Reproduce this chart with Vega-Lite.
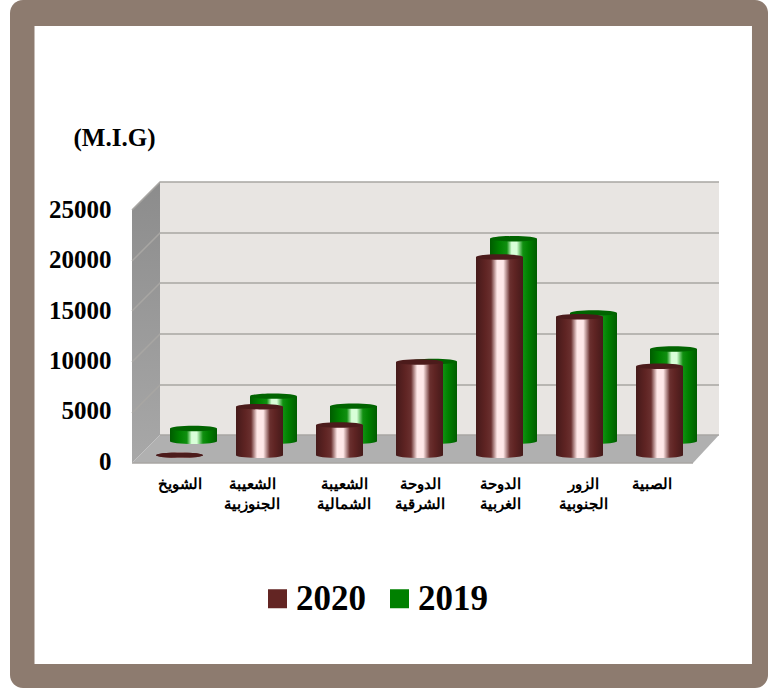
{"$schema":"https://vega.github.io/schema/vega-lite/v6.json","width":758,"height":688,"padding":{"left":10,"top":0,"right":0,"bottom":0},"autosize":"none","background":"white","config":{"view":{"fill":"#8d7b6f","stroke":null,"cornerRadius":13}},"datasets":{"main":[{"idx":0,"name":"الشويخ","year":"2020","value":20},{"idx":1,"name":"الشعيبة الجنوزبية","year":"2020","value":4820},{"idx":2,"name":"الشعيبة الشمالية","year":"2020","value":3000},{"idx":3,"name":"الدوحة الشرقية","year":"2020","value":9260},{"idx":4,"name":"الدوحة الغربية","year":"2020","value":19670},{"idx":5,"name":"الزور الجنوبية","year":"2020","value":13750},{"idx":6,"name":"الصبية","year":"2020","value":8830},{"idx":0,"name":"الشويخ","year":"2019","value":1270},{"idx":1,"name":"الشعيبة الجنوزبية","year":"2019","value":4480},{"idx":2,"name":"الشعيبة الشمالية","year":"2019","value":3490},{"idx":3,"name":"الدوحة الشرقية","year":"2019","value":7920},{"idx":4,"name":"الدوحة الغربية","year":"2019","value":20090},{"idx":5,"name":"الزور الجنوبية","year":"2019","value":12720},{"idx":6,"name":"الصبية","year":"2019","value":9150}],"panel":[{"u":-1.8125,"u2":7.156,"lo":-20703,"hi":42587}],"side":[{"u":-0.59375,"lo":-764,"hi":24333},{"u":-0.24375,"lo":2014,"hi":27110}],"floor":[{"u":-0.59375,"lo":-764,"hi":-764},{"u":-0.24375,"lo":-764,"hi":2014},{"u":6.41875,"lo":-764,"hi":2014},{"u":6.74375,"lo":2014,"hi":2014}],"back":[{"u":-0.24375,"u2":6.74375,"lo":2014,"hi":27110}],"grid":[{"g":"a","u":-0.59375,"v":4200},{"g":"a","u":-0.24375,"v":6974},{"g":"a","u":6.74375,"v":6974},{"g":"b","u":-0.59375,"v":9256},{"g":"b","u":-0.24375,"v":12034},{"g":"b","u":6.74375,"v":12034},{"g":"c","u":-0.59375,"v":14315},{"g":"c","u":-0.24375,"v":17093},{"g":"c","u":6.74375,"v":17093},{"g":"d","u":-0.59375,"v":19275},{"g":"d","u":-0.24375,"v":22053},{"g":"d","u":6.74375,"v":22053},{"g":"e","u":-0.59375,"v":24333},{"g":"e","u":-0.24375,"v":27110},{"g":"e","u":6.74375,"v":27110},{"g":"f","u":-0.24375,"v":2014},{"g":"f","u":6.74375,"v":2014},{"g":"h","u":-0.59375,"v":-764},{"g":"h","u":6.41875,"v":-764}]},"layer":[{"data":{"name":"panel"},"mark":{"type":"rect","color":"white"},"encoding":{"x":{"field":"u","type":"quantitative","scale":{"domain":[-2.11875,7.35625],"nice":false,"zero":false,"padding":0},"axis":{"orient":"bottom","offset":-212,"title":null,"values":[0.006,0.906,2.05,3,4,5.044,5.9],"domain":false,"ticks":false,"grid":false,"labelPadding":0,"labelFlush":false,"labelOverlap":false,"zindex":1,"labelFont":"Liberation Sans","labelFontWeight":"bold","labelFontSize":15,"labelColor":"black","labelBaseline":"top","labelLineHeight":20,"labelExpr":"[['الشويخ'],['الشعيبة','الجنوزبية'],['الشعيبة','الشمالية'],['الدوحة','الشرقية'],['الدوحة','الغربية'],['الزور','الجنوبية'],['الصبية']][round(datum.value)]"}},"x2":{"field":"u2"},"y":{"field":"lo","type":"quantitative","scale":{"domain":[-23084,45166],"nice":false,"zero":false,"padding":0},"axis":{"orient":"left","offset":-101,"values":[0,5000,10000,15000,20000,25000],"format":"d","domain":false,"ticks":false,"grid":false,"labelPadding":0,"labelOffset":6,"zindex":1,"labelFont":"Liberation Serif","labelFontWeight":"bold","labelFontSize":25,"labelColor":"black","title":"(M.I.G)","titleFont":"Liberation Serif","titleFontWeight":"bold","titleFontSize":25,"titleColor":"black","titleAngle":0,"titleAlign":"center","titleBaseline":"middle","titleX":3,"titleY":137}},"y2":{"field":"hi"}}},{"data":{"name":"back"},"mark":{"type":"rect","color":"#e8e5e2"},"encoding":{"x":{"field":"u","type":"quantitative"},"x2":{"field":"u2"},"y":{"field":"lo","type":"quantitative"},"y2":{"field":"hi"}}},{"data":{"name":"side"},"mark":{"type":"area","orient":"vertical","color":{"gradient":"linear","x1":0,"y1":0,"x2":0,"y2":1,"stops":[{"offset":0,"color":"#8c8c8c"},{"offset":1,"color":"#a8a8a8"}]}},"encoding":{"x":{"field":"u","type":"quantitative"},"y":{"field":"lo","type":"quantitative"},"y2":{"field":"hi"}}},{"data":{"name":"floor"},"mark":{"type":"area","orient":"vertical","color":"#b0b0b0"},"encoding":{"x":{"field":"u","type":"quantitative"},"y":{"field":"lo","type":"quantitative"},"y2":{"field":"hi"}}},{"data":{"name":"grid"},"mark":{"type":"line","color":"#a8a6a3","strokeWidth":1.5},"encoding":{"x":{"field":"u","type":"quantitative"},"y":{"field":"v","type":"quantitative"},"detail":{"field":"g"}}},{"data":{"name":"main"},"transform":[{"filter":"datum.year==='2019'"}],"mark":{"type":"point","filled":true,"opacity":1,"size":2209,"xOffset":14,"yOffset":-14,"shape":"M -1 0 A 1 0.115 0 1 1 1 0 A 1 0.115 0 1 1 -1 0 Z","color":{"gradient":"linear","x1":0,"y1":0,"x2":1,"y2":0,"stops":[{"offset":0,"color":"#005c00"},{"offset":0.2,"color":"#008000"},{"offset":0.36,"color":"#109010"},{"offset":0.46,"color":"#d8ffd8"},{"offset":0.57,"color":"#d8ffd8"},{"offset":0.7,"color":"#109010"},{"offset":0.82,"color":"#008000"},{"offset":1,"color":"#005c00"}]}},"encoding":{"x":{"field":"idx","type":"quantitative"},"y":{"datum":0,"type":"quantitative"}}},{"data":{"name":"main"},"transform":[{"filter":"datum.year==='2019'"}],"mark":{"type":"bar","orient":"vertical","size":47,"xOffset":14,"x2Offset":14,"yOffset":-14,"y2Offset":-14,"color":{"gradient":"linear","x1":0,"y1":0,"x2":1,"y2":0,"stops":[{"offset":0,"color":"#005c00"},{"offset":0.2,"color":"#008000"},{"offset":0.36,"color":"#109010"},{"offset":0.46,"color":"#d8ffd8"},{"offset":0.57,"color":"#d8ffd8"},{"offset":0.7,"color":"#109010"},{"offset":0.82,"color":"#008000"},{"offset":1,"color":"#005c00"}]}},"encoding":{"x":{"field":"idx","type":"quantitative"},"y":{"field":"value","type":"quantitative","stack":null},"y2":{"datum":0}}},{"data":{"name":"main"},"transform":[{"filter":"datum.year==='2019'"}],"mark":{"type":"point","filled":true,"opacity":1,"size":2209,"xOffset":14,"yOffset":-14,"shape":"M -1 0 A 1 0.115 0 1 1 1 0 A 1 0.115 0 1 1 -1 0 Z","color":"#006400"},"encoding":{"x":{"field":"idx","type":"quantitative"},"y":{"field":"value","type":"quantitative"}}},{"data":{"name":"main"},"transform":[{"filter":"datum.year==='2020'"}],"mark":{"type":"point","filled":true,"opacity":1,"size":2209,"shape":"M -1 0 A 1 0.115 0 1 1 1 0 A 1 0.115 0 1 1 -1 0 Z","color":{"gradient":"linear","x1":0,"y1":0,"x2":1,"y2":0,"stops":[{"offset":0,"color":"#451a1a"},{"offset":0.2,"color":"#5f2423"},{"offset":0.32,"color":"#6a302f"},{"offset":0.45,"color":"#ffe8e8"},{"offset":0.58,"color":"#ffe8e8"},{"offset":0.72,"color":"#6a302f"},{"offset":0.82,"color":"#5f2423"},{"offset":1,"color":"#451a1a"}]}},"encoding":{"x":{"field":"idx","type":"quantitative"},"y":{"datum":0,"type":"quantitative"}}},{"data":{"name":"main"},"transform":[{"filter":"datum.year==='2020'"}],"mark":{"type":"bar","orient":"vertical","size":47,"color":{"gradient":"linear","x1":0,"y1":0,"x2":1,"y2":0,"stops":[{"offset":0,"color":"#451a1a"},{"offset":0.2,"color":"#5f2423"},{"offset":0.32,"color":"#6a302f"},{"offset":0.45,"color":"#ffe8e8"},{"offset":0.58,"color":"#ffe8e8"},{"offset":0.72,"color":"#6a302f"},{"offset":0.82,"color":"#5f2423"},{"offset":1,"color":"#451a1a"}]}},"encoding":{"x":{"field":"idx","type":"quantitative"},"y":{"field":"value","type":"quantitative","stack":null},"y2":{"datum":0}}},{"data":{"name":"main"},"transform":[{"filter":"datum.year==='2020'"}],"mark":{"type":"point","filled":true,"opacity":1,"size":2209,"shape":"M -1 0 A 1 0.115 0 1 1 1 0 A 1 0.115 0 1 1 -1 0 Z","color":"#4c1b1b"},"encoding":{"x":{"field":"idx","type":"quantitative"},"y":{"field":"value","type":"quantitative"}}},{"data":{"name":"main"},"mark":{"type":"point","filled":true,"size":1,"opacity":0},"encoding":{"x":{"field":"idx","type":"quantitative"},"y":{"field":"value","type":"quantitative"},"color":{"field":"year","type":"nominal","scale":{"domain":["2020","2019"],"range":["#632523","#008000"]},"legend":{"orient":"none","legendX":250,"legendY":581,"direction":"horizontal","columns":2,"title":null,"symbolType":"square","symbolSize":361,"symbolOpacity":1,"symbolStrokeWidth":0,"labelFont":"Liberation Serif","labelFontWeight":"bold","labelFontSize":35,"labelColor":"black","labelOffset":1,"columnPadding":16,"labelLimit":200,"padding":0}}}}]}
